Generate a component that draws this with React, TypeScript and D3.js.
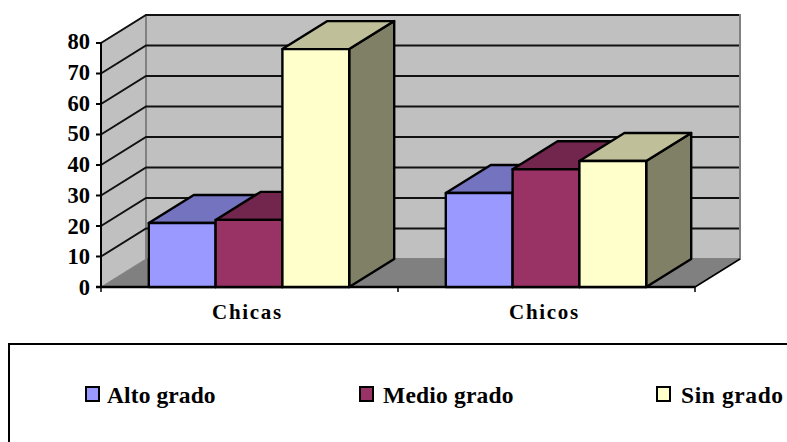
import React from "react";
import * as d3 from "d3";

const categories = ["Chicas", "Chicos"];
const seriesNames = ["Alto grado", "Medio grado", "Sin grado"];
const altoGrado = [21, 30.8];
const medioGrado = [22, 38.6];
const sinGrado = [78, 41.3];
const seriesValues = [altoGrado, medioGrado, sinGrado];
const frontColors = ["#9999FF", "#993366", "#FFFFCC"];
const topColors = ["#7373BF", "#73264D", "#BFBF99"];
const sideColors = ["#4D4D80", "#4D1A33", "#808066"];
const yTicks = [0, 10, 20, 30, 40, 50, 60, 70, 80];

const W = 787, H = 442;
const DX = 45, DY = -28;
const FONT = "'Liberation Serif', serif";
const legendX = [86, 360, 657];
const legendTextX = [107, 383, 681];
const legendSpacing = [0.1, 0.2, 0.6];

export default function App() {
  const y = d3.scaleLinear().domain([0, 80]).range([287, 43]);
  const labelY = d3.scaleLinear().domain([0, 80]).range([295, 49.3]);
  const x0 = d3.scaleBand().domain(categories).range([101, 695]).paddingInner(0).paddingOuter(0);
  const barW = 66.8;
  const pts = (p: number[][]) => p.map((d) => d.join(",")).join(" ");
  const base = y(0), top = y(80), xl = 101, xr = 695;
  return (
    <svg width={W} height={H} style={{ position: "absolute", left: 0, top: 0, background: "#fff" }} fontFamily={FONT}>
      <polygon points={pts([[xl, base], [xl + DX, base + DY], [xr + DX, base + DY], [xr, base]])} fill="#808080" />
      <polygon points={pts([[xl, base], [xl, top], [xl + DX, top + DY], [xl + DX, base + DY]])} fill="#C0C0C0" stroke="#808080" strokeWidth={1} />
      <polygon points={pts([[xl + DX, base + DY], [xl + DX, top + DY], [xr + DX, top + DY], [xr + DX, base + DY]])} fill="#C0C0C0" stroke="#808080" strokeWidth={2} />
      <line x1={xr} y1={base} x2={xr + DX} y2={base + DY} stroke="#000" strokeWidth={1.5} />
      {yTicks.slice(1).map((t) => (
        <polyline key={t} stroke="#111" strokeWidth={2} fill="none"
          points={pts([[xl, y(t)], [xl + DX, y(t) + DY], [xr + DX - 1, y(t) + DY]])} />
      ))}
      <line x1={xl} y1={top - 1} x2={xl} y2={base + 1} stroke="#000" strokeWidth={2} />
      <line x1={xl - 5} y1={base} x2={xr} y2={base} stroke="#000" strokeWidth={2.4} />
      {yTicks.map((t) => (
        <g key={t}>
          <line x1={xl - 5} x2={xl} y1={y(t)} y2={y(t)} stroke="#000" strokeWidth={2} />
          <text x={90} y={labelY(t)} textAnchor="end" fontSize={22.5} fontWeight="bold" fill="#000">{t}</text>
        </g>
      ))}
      {[xl, xl + x0.bandwidth(), xr].map((t, i) => (
        <line key={i} x1={t} x2={t} y1={base} y2={base + 5} stroke="#000" strokeWidth={1.5} />
      ))}
      {categories.map((c, ci) => {
        const center = (x0(c) as number) + x0.bandwidth() / 2 - 0.5;
        return (
          <g key={c}>
            {seriesValues.map((vals, si) => {
              const xa = center - 1.5 * barW + si * barW;
              const xb = xa + barW;
              const yt = y(vals[ci]);
              return (
                <g key={si} stroke="#000" strokeWidth={2.4} strokeLinejoin="round">
                  <polygon points={pts([[xb, base], [xb, yt], [xb + DX, yt + DY], [xb + DX, base + DY]])} fill={sideColors[si]} />
                  <polygon points={pts([[xa, yt], [xa + DX, yt + DY], [xb + DX, yt + DY], [xb, yt]])} fill={topColors[si]} />
                  <rect x={xa} y={yt} width={barW} height={base - yt} fill={frontColors[si]} />
                </g>
              );
            })}
            <text x={center - 1.5} y={318.5} textAnchor="middle" fontSize={21} fontWeight="bold" letterSpacing={1.7} fill="#000">{c}</text>
          </g>
        );
      })}
      <rect x={9} y={344} width={W + 100} height={200} fill="#fff" stroke="#000" strokeWidth={2} />
      {seriesNames.map((n, i) => (
        <g key={n}>
          <rect x={legendX[i]} y={387} width={13} height={14} fill={frontColors[i]} stroke="#000" strokeWidth={2} />
          <text x={legendTextX[i]} y={402.5} fontSize={23.5} fontWeight="bold" letterSpacing={legendSpacing[i]} fill="#000">{n}</text>
        </g>
      ))}
    </svg>
  );
}
